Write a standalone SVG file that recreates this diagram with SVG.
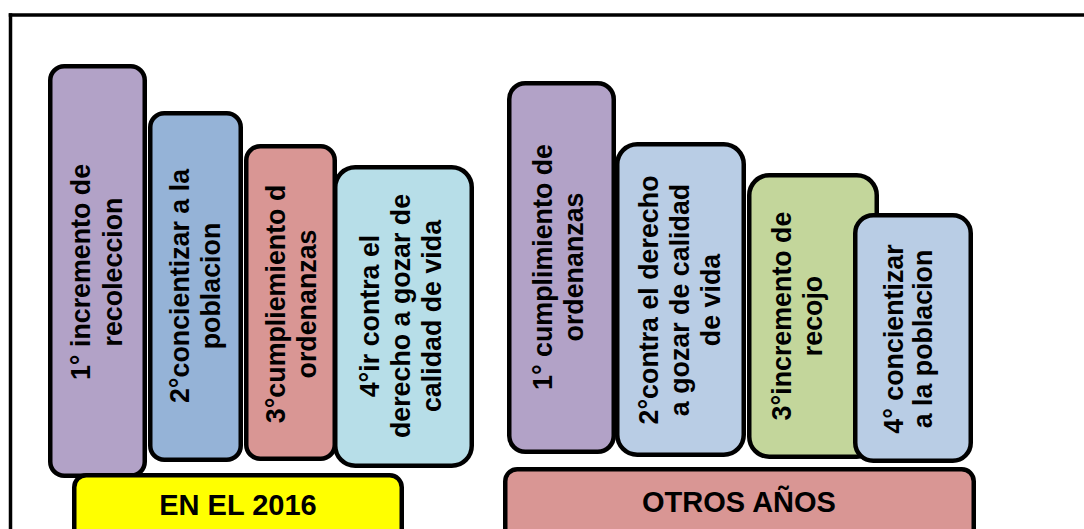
<svg xmlns="http://www.w3.org/2000/svg" width="1084" height="529" viewBox="0 0 1084 529">
<style>
.box{stroke:#000;stroke-width:4.5}
.t{font-family:"Liberation Sans",Arial,sans-serif;font-weight:bold;font-size:26.8px;fill:#000;text-anchor:middle}
.lbl{font-family:"Liberation Sans",Arial,sans-serif;font-weight:bold;font-size:29px;fill:#000;text-anchor:middle}
</style>
<rect width="1084" height="529" fill="#fff"/>
<g id="frame" fill="none" stroke="#000" stroke-width="3.5">
<line x1="8.75" y1="15" x2="1084" y2="15"/>
<line x1="10.5" y1="13.25" x2="10.5" y2="529"/>
</g>
<g id="connectors"/>
<g id="n1">
<rect class="box" x="50.25" y="66.25" width="94.5" height="409.5" rx="14" fill="#B2A2C7"/>
<text class="t" transform="translate(90,272) rotate(-90)"><tspan x="0" y="0">1° incremento de</tspan><tspan x="0" y="32">recoleccion</tspan></text>
</g>
<g id="n2">
<rect class="box" x="150.25" y="113.25" width="90.5" height="346.5" rx="14" fill="#95B3D7"/>
<text class="t" transform="translate(189,286) rotate(-90)"><tspan x="0" y="0">2°concientizar a la</tspan><tspan x="0" y="31">poblacion</tspan></text>
</g>
<g id="n3">
<rect class="box" x="246.25" y="146.25" width="88.5" height="312.5" rx="14" fill="#D99694"/>
<text class="t" transform="translate(285,304) rotate(-90)"><tspan x="0" y="0">3°cumpliemiento d</tspan><tspan x="0" y="31">ordenanzas</tspan></text>
</g>
<g id="n4">
<rect class="box" x="335.25" y="167.25" width="136.5" height="298.5" rx="20" fill="#B7DEE8"/>
<text class="t" transform="translate(379,316) rotate(-90)"><tspan x="0" y="0">4°ir contra el</tspan><tspan x="0" y="31">derecho a gozar de</tspan><tspan x="0" y="62">calidad de vida</tspan></text>
</g>
<g id="n5">
<rect class="box" x="74.25" y="475.25" width="327.5" height="80" rx="12" fill="#FFFF00"/>
<text class="lbl" x="238" y="515">EN EL 2016</text>
</g>
<g id="m1">
<rect class="box" x="509.25" y="83.25" width="104.5" height="368.5" rx="16" fill="#B2A2C7"/>
<text class="t" transform="translate(552,267) rotate(-90)"><tspan x="0" y="0">1° cumplimiento de</tspan><tspan x="0" y="31">ordenanzas</tspan></text>
</g>
<g id="m2">
<rect class="box" x="617.25" y="144.25" width="126.5" height="310.5" rx="20" fill="#B9CDE5"/>
<text class="t" transform="translate(658,300) rotate(-90)"><tspan x="0" y="0">2°contra el derecho</tspan><tspan x="0" y="31">a gozar de calidad</tspan><tspan x="0" y="62">de vida</tspan></text>
</g>
<g id="m3">
<rect class="box" x="749.25" y="175.25" width="127.5" height="281.5" rx="20" fill="#C3D69B"/>
<text class="t" transform="translate(791,316) rotate(-90)"><tspan x="0" y="0">3°incremento de</tspan><tspan x="0" y="31">recojo</tspan></text>
</g>
<g id="m4">
<rect class="box" x="855.25" y="215.25" width="115.5" height="245.5" rx="18" fill="#B9CDE5"/>
<text class="t" transform="translate(903,339) rotate(-90)"><tspan x="0" y="0">4° concientizar</tspan><tspan x="0" y="29">a la poblacion</tspan></text>
</g>
<g id="m5">
<rect class="box" x="505.25" y="469.25" width="468.5" height="80" rx="12" fill="#D99694"/>
<text class="lbl" x="739" y="512">OTROS AÑOS</text>
</g>
</svg>
